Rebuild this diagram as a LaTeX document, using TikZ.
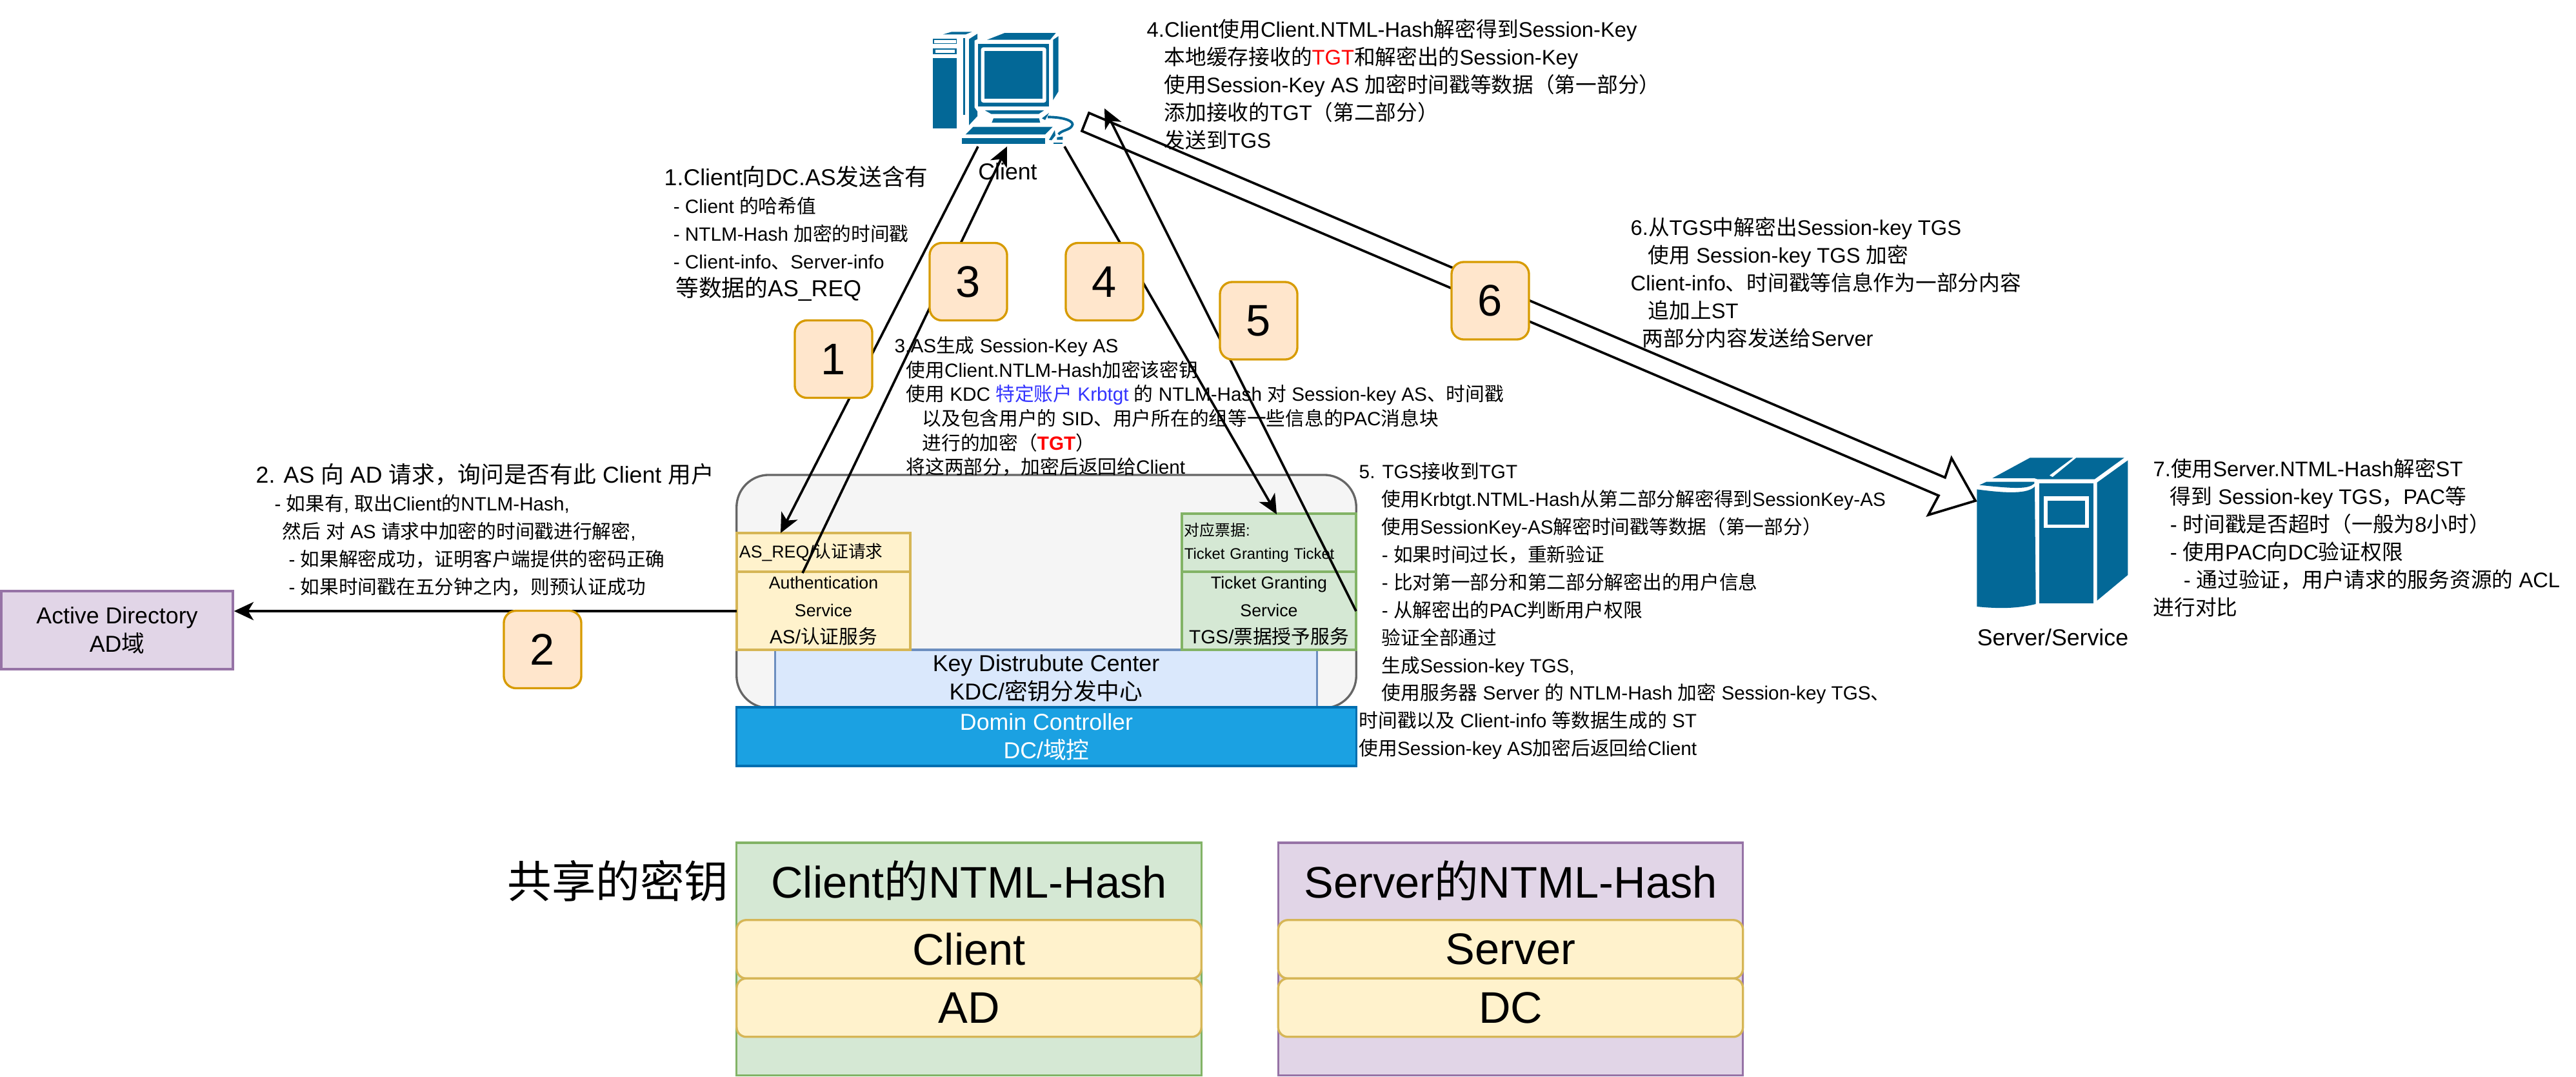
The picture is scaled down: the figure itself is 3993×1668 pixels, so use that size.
\documentclass[tikz,border=0pt]{standalone}
\usepackage{fontspec}
\setmainfont{Liberation Sans}
\newfontfamily\cjkfont{Noto Sans CJK SC}
\usetikzlibrary{arrows.meta}

% han characters and full-width punctuation switch to the CJK family by themselves
\newXeTeXintercharclass\cjkcharclass
\count255="4E00
\loop\XeTeXcharclass\count255=\cjkcharclass\ifnum\count255<"9FFF\advance\count255 by 1\repeat
\count255="3000
\loop\XeTeXcharclass\count255=\cjkcharclass\ifnum\count255<"303F\advance\count255 by 1\repeat
\count255="FF00
\loop\XeTeXcharclass\count255=\cjkcharclass\ifnum\count255<"FFEF\advance\count255 by 1\repeat
\XeTeXinterchartoks 0 \cjkcharclass={\cjkfont}
\XeTeXinterchartoks 4095 \cjkcharclass={\cjkfont}
\XeTeXinterchartoks \cjkcharclass 0={\rmfamily}
\XeTeXinterchartoks \cjkcharclass 4095={\rmfamily}
\XeTeXinterchartokenstate=1

\definecolor{iconblue}{HTML}{036897}
\definecolor{orangefill}{HTML}{FFE6CC}
\definecolor{orangeline}{HTML}{D79B00}
\definecolor{yellowfill}{HTML}{FFF2CC}
\definecolor{yellowline}{HTML}{D6B656}
\definecolor{greenfill}{HTML}{D5E8D4}
\definecolor{greenline}{HTML}{82B366}
\definecolor{purplefill}{HTML}{E1D5E7}
\definecolor{purpleline}{HTML}{9673A6}
\definecolor{kdcfill}{HTML}{DAE8FC}
\definecolor{kdcline}{HTML}{6C8EBF}
\definecolor{dcfill}{HTML}{1BA1E2}
\definecolor{dcline}{HTML}{006EAF}
\definecolor{grayfill}{HTML}{F5F5F5}
\definecolor{grayline}{HTML}{666666}
\definecolor{keyblue}{HTML}{3333FF}

\newcommand\sizeeight{\fontsize{6.77pt}{10.2pt}\selectfont}
\newcommand\sizenine{\fontsize{7.6pt}{12.2pt}\selectfont}
\newcommand\sizeten{\fontsize{8.45pt}{12.2pt}\selectfont}
\newcommand\sizeeleven{\fontsize{9.3pt}{12.2pt}\selectfont}
\newcommand\sizetwelve{\fontsize{10.16pt}{12.5pt}\selectfont}
\newcommand\sizehuge{\fontsize{19.5pt}{24pt}\selectfont}

\tikzset{
  box/.style={draw,line width=.95pt,inner sep=0pt,align=center},
  note/.style={anchor=north west,inner sep=0pt,align=left},
  badge/.style={box,draw=orangeline,fill=orangefill,rounded corners=1.9mm,
    minimum width=1.2cm,minimum height=1.2cm,font=\sizehuge},
  keybox/.style={box,draw=yellowline,fill=yellowfill,rounded corners=1.5mm,
    minimum width=7.2cm,minimum height=.905cm,font=\sizehuge},
  link/.style={line width=1.05pt,-{Stealth[length=8.6pt,width=8pt,inset=2.4pt]}},
}

\begin{document}
\begin{tikzpicture}[x=.01cm,y=-.01cm]
\useasboundingbox (0,0) rectangle (3993,1668);

% KDC stack
\node (dcshell) [box,draw=grayline,fill=grayfill,rounded corners=5mm,minimum width=9.6cm,minimum height=3.61cm] at (1622,916.5) {};
\node (kdc) [box,draw=kdcline,fill=kdcfill,minimum width=8.39cm,minimum height=.89cm,font=\sizetwelve] at (1621.5,1051.5) {Key Distrubute Center\\KDC/密钥分发中心};
\node (dc) [box,draw=dcline,fill=dcfill,text=white,minimum width=9.6cm,minimum height=.91cm,font=\sizetwelve] at (1622,1141.5) {Domin Controller\\DC/域控};
\node (asreq) [box,draw=yellowline,fill=yellowfill,minimum width=2.69cm,minimum height=.6cm,font=\sizenine,text width=2.61cm,align=left] at (1276.5,856) {AS\_REQ/认证请求};
\node (as) [box,draw=yellowline,fill=yellowfill,minimum width=2.69cm,minimum height=1.21cm,font=\sizenine] at (1276.5,946.5) {Authentication\\Service\\{\sizeten AS/认证服务}};
\node (tgt) [box,draw=greenline,fill=greenfill,minimum width=2.7cm,minimum height=.9cm,font=\sizeeight,text width=2.62cm,align=left] at (1967,841) {对应票据:\\Ticket Granting Ticket};
\node (tgs) [box,draw=greenline,fill=greenfill,minimum width=2.7cm,minimum height=1.21cm,font=\sizenine] at (1967,946.5) {Ticket Granting\\Service\\{\sizeten TGS/票据授予服务}};

\node (ad) [box,draw=purpleline,fill=purplefill,minimum width=3.59cm,minimum height=1.21cm,font=\sizetwelve] at (181.5,976.5) {Active Directory\\AD域};

% client computer
\begin{scope}[shift={(1400,20)},scale=1/3,iconblue]
\fill (137,210) rectangle (250,538);
\fill (137,120) rectangle (250,145);
\fill (137,165) rectangle (250,192);
\fill [white] (143,125) rectangle (246,141);
\fill [white] (150,170) rectangle (240,187);
\fill (185,100) -- (225,88) -- (320,88) -- (290,100) -- cycle;
\fill (280,118) rectangle (288,475);
\fill (306,122) -- (345,97) -- (345,122) -- (332,128) -- (332,440) -- (345,458) -- (345,480) -- (306,522) -- cycle;
\fill (390,125) -- (472,93) -- (710,93) -- (683,125) -- cycle;
\fill (697,125) -- (722,108) -- (722,365) -- (697,405) -- cycle;
\fill (348,143) rectangle (678,435);
\fill [white,rounded corners=1pt] (362,160) rectangle (665,417);
\fill (378,178) rectangle (648,398);
\fill (380,453) -- (655,453) -- (630,470) -- (410,470) -- cycle;
\fill (420,490) -- (632,490) -- (637,510) -- (412,510) -- cycle;
\fill (325,530) -- (695,530) -- (660,565) -- (290,565) -- cycle;
\fill (272,583) rectangle (660,610);
\fill (645,490) -- (678,465) -- (660,498) -- cycle;
\fill (678,590) -- (705,545) -- (708,570) -- (690,592) -- cycle;
\fill (715,578) -- (742,575) -- (742,590) -- (715,590) -- cycle;
\fill (698,604) rectangle (742,610);
\draw [line width=1.1pt] (672,484) .. controls (750,484) and (800,505) .. (785,525) .. controls (775,545) and (735,545) .. (722,565);
\end{scope}

% server cabinet
\begin{scope}[shift={(3000,680)},scale=1/3,iconblue]
\fill (265,183) -- (440,88) -- (640,88) -- (530,170) -- (545,178) -- (655,88) -- (878,88) -- (740,188) -- (475,188) -- (460,183) -- cycle;
\fill (205,215) -- (237,200) -- (460,200) -- (460,208) .. controls (430,235) and (370,232) .. (205,215) -- cycle;
\fill (193,235) .. controls (340,255) and (430,255) .. (462,222) -- (467,768) .. controls (380,790) and (290,790) .. (193,780) -- cycle;
\fill (484,207) rectangle (735,765);
\fill [white] (505,268) rectangle (715,415);
\fill (522,287) rectangle (697,398);
\fill (752,203) -- (895,100) -- (895,633) -- (752,752) -- cycle;
\end{scope}

\node (clientname) [font=\sizetwelve] at (1562,266) {Client};
\node (servername) [font=\sizetwelve] at (3182,988) {Server/Service};

% ends of the links at the computers and on the boxes
\coordinate (clientout) at (1516,227);
\coordinate (clientin) at (1561,227);
\coordinate (clientsend) at (1650,227);
\coordinate (clientback) at (1712,168);
\coordinate (asin) at (1210,826);
\coordinate (asout) at (1244,888);
\coordinate (tgsin) at (1979,797);
\coordinate (tgsout) at (2102,947);
\coordinate (adout) at (1142,947);

% wide arrow from the client to the server
\coordinate (tailA) at (1688,175);
\coordinate (tailB) at (1677,203);
\coordinate (neckA) at (3015,740);
\coordinate (barbA) at (3025,710);
\coordinate (server) at (3062,776);
\coordinate (barbB) at (2989,798);
\coordinate (neckB) at (3005,768);
\draw [line width=1.05pt,fill=white,miter limit=4] (tailA) -- (neckA) -- (barbA) -- (server) -- (barbB) -- (neckB) -- (tailB) -- cycle;

\draw [link] (clientout) -- (asin);
\draw [link] (asout) -- (clientin);
\draw [link] (clientsend) -- (tgsin);
\draw [link] (tgsout) -- (clientback);
\draw [link] (adout) -- (adout -| ad.east);

\node (one) [badge] at (1292,556.5) {1};
\node (two) [badge] at (841,1006.5) {2};
\node (three) [badge] at (1501,436.5) {3};
\node (four) [badge] at (1712,436.5) {4};
\node (five) [badge] at (1951,497) {5};
\node (six) [badge] at (2310,466) {6};

\node (stepone) [note,font=\sizeten] at (1029,257) {{\sizetwelve 1.Client向DC.AS发送含有}\\
\hspace*{4pt}- Client 的哈希值\\
\hspace*{4pt}- NTLM-Hash 加密的时间戳\\
\hspace*{4pt}- Client-info、Server-info\\
{\sizetwelve\hspace*{5pt}等数据的AS\_REQ}};

\node (steptwo) [note,font=\sizeten] at (396,718) {{\sizetwelve 2. AS 向 AD 请求，询问是否有此 Client 用户}\\
\hspace*{8.2pt}- 如果有, 取出Client的NTLM-Hash,\\
\hspace*{11.6pt}然后 对 AS 请求中加密的时间戳进行解密,\\
\hspace*{14.5pt}- 如果解密成功，证明客户端提供的密码正确\\
\hspace*{14.5pt}- 如果时间戳在五分钟之内，则预认证成功};

\node (stepthree) [note,font=\fontsize{8.45pt}{10.7pt}\selectfont] at (1386,521) {3.AS生成 Session-Key AS\\
\hspace*{5.1pt}使用Client.NTLM-Hash加密该密钥\\
\hspace*{5.1pt}使用 KDC {\color{keyblue}特定账户 Krbtgt} 的 NTLM-Hash 对 Session-key AS、时间戳\\
\hspace*{12.2pt}以及包含用户的 SID、用户所在的组等一些信息的PAC消息块\\
\hspace*{12.2pt}进行的加密（{\color{red}\bfseries TGT}）\\
\hspace*{5.1pt}将这两部分，加密后返回给Client};

\node (stepfour) [note,font=\sizeeleven] at (1777,29) {4.Client使用Client.NTML-Hash解密得到Session-Key\\
\hspace*{7.7pt}本地缓存接收的{\color{red}TGT}和解密出的Session-Key\\
\hspace*{7.7pt}使用Session-Key AS 加密时间戳等数据（第一部分）\\
\hspace*{7.7pt}添加接收的TGT（第二部分）\\
\hspace*{7.7pt}发送到TGS};

\node (stepfive) [note,font=\sizeten] at (2106,716) {5. TGS接收到TGT\\
\hspace*{10pt}使用Krbtgt.NTML-Hash从第二部分解密得到SessionKey-AS\\
\hspace*{10pt}使用SessionKey-AS解密时间戳等数据（第一部分）\\
\hspace*{10pt}- 如果时间过长，重新验证\\
\hspace*{10pt}- 比对第一部分和第二部分解密出的用户信息\\
\hspace*{10pt}- 从解密出的PAC判断用户权限\\
\hspace*{10pt}验证全部通过\\
\hspace*{10pt}生成Session-key TGS,\\
\hspace*{10pt}使用服务器 Server 的 NTLM-Hash 加密 Session-key TGS、\\
时间戳以及 Client-info 等数据生成的 ST\\
使用Session-key AS加密后返回给Client};

\node (stepsix) [note,font=\sizeeleven] at (2527,336) {6.从TGS中解密出Session-key TGS\\
\hspace*{7.7pt}使用 Session-key TGS 加密\\
Client-info、时间戳等信息作为一部分内容\\
\hspace*{7.7pt}追加上ST\\
\hspace*{5.1pt}两部分内容发送给Server};

\node (stepseven) [note,font=\sizeeleven] at (3337,710) {7.使用Server.NTML-Hash解密ST\\
\hspace*{7.4pt}得到 Session-key TGS，PAC等\\
\hspace*{7.4pt}- 时间戳是否超时（一般为8小时）\\
\hspace*{7.4pt}- 使用PAC向DC验证权限\\
\hspace*{13.4pt}- 通过验证，用户请求的服务资源的 ACL\\
进行对比};

% shared keys
\node (sharedname) [anchor=east,inner sep=0pt,font=\sizehuge] at (1130,1365) {共享的密钥};
\node (clienthash) [box,draw=greenline,fill=greenfill,minimum width=7.2cm,minimum height=3.605cm] at (1502,1486.2) {};
\node (clienttitle) [font=\sizehuge] at (1502,1365) {Client的NTML-Hash};
\node (clientkey) [keybox] at (1502,1471) {Client};
\node (adkey) [keybox] at (1502,1561.5) {AD};
\node (serverhash) [box,draw=purpleline,fill=purplefill,minimum width=7.2cm,minimum height=3.605cm] at (2341.5,1486.2) {};
\node (servertitle) [font=\sizehuge] at (2341.5,1365) {Server的NTML-Hash};
\node (serverkey) [keybox] at (2341.5,1471) {Server};
\node (dckey) [keybox] at (2341.5,1561.5) {DC};
\end{tikzpicture}
\end{document}
